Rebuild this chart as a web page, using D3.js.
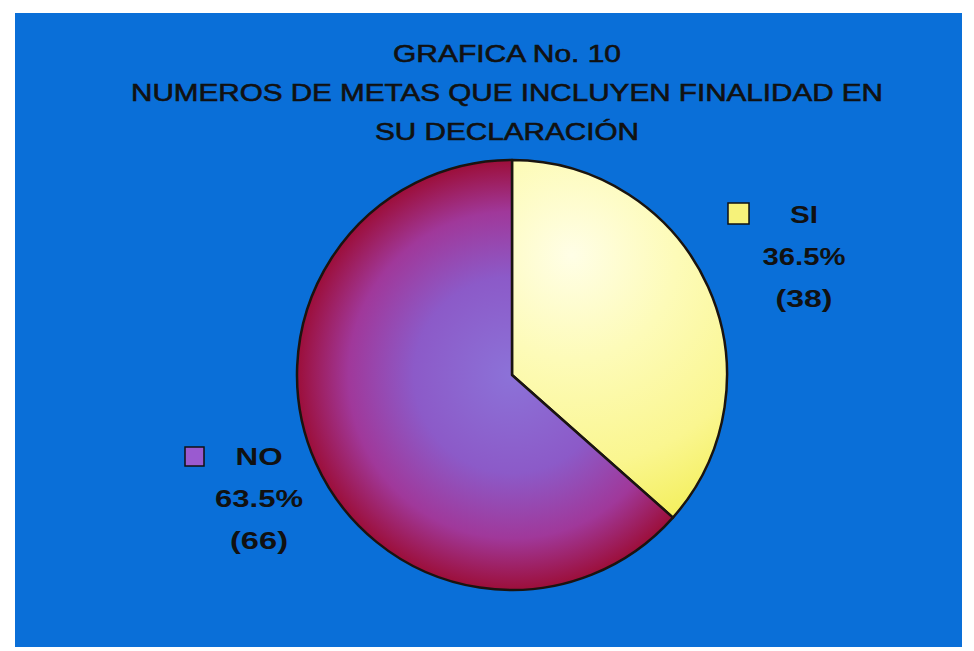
<!DOCTYPE html>
<html>
<head>
<meta charset="utf-8">
<script src="https://cdn.jsdelivr.net/npm/d3@7"></script>
<style>
  body { margin: 0; background: #fff; }
  svg { display: block; }
  text { font-family: "Liberation Sans", Arial, sans-serif; fill: #111; }
</style>
</head>
<body>
<svg id="chart"></svg>
<script>
const width = 974;
const height = 651;

const titleLines = ["GRAFICA No. 10", "NUMEROS DE METAS QUE INCLUYEN FINALIDAD EN", "SU DECLARACIÓN"];
const categories = ["SI", "NO"];
const counts = [38, 66];
const percents = ["36.5%", "63.5%"];

const svg = d3.select("#chart").attr("width", width).attr("height", height);
const defs = svg.append("defs");

// slice gradients
const grads = {
  SI: { cx: 60, cy: -120, r: 300, stops: [["0%", "#fffee6"], ["35%", "#fdfbb8"], ["70%", "#faf690"], ["100%", "#f2ed50"]] },
  NO: { cx: 0, cy: 0, r: 218, stops: [["0%", "#8c72d8"], ["45%", "#8c5ac8"], ["75%", "#a0389a"], ["100%", "#9c0c34"]] },
};
Object.keys(grads).forEach((k) => {
  const gd = grads[k];
  const g = defs.append("radialGradient").attr("id", "grad_" + k)
    .attr("gradientUnits", "userSpaceOnUse")
    .attr("cx", gd.cx).attr("cy", gd.cy).attr("r", gd.r);
  gd.stops.forEach(([o, c]) => g.append("stop").attr("offset", o).attr("stop-color", c));
});

// blue panel
svg.append("rect")
  .attr("x", 15).attr("y", 13)
  .attr("width", 947).attr("height", 634)
  .attr("fill", "#0a6fd8");

// title
svg.append("g").selectAll("text")
  .data(titleLines)
  .join("text")
  .attr("x", 507)
  .attr("y", (d, i) => 62 + i * 39)
  .attr("text-anchor", "middle")
  .attr("font-size", 24)
  .attr("stroke", "#111")
  .attr("stroke-width", 0.6)
  .attr("textLength", (d, i) => [228, 752, 264][i])
  .attr("lengthAdjust", "spacingAndGlyphs")
  .text((d) => d);

// pie
const cx = 512, cy = 375, r = 215;
const data = categories.map((c, i) => ({ cat: c, value: counts[i], pct: percents[i] }));
const pie = d3.pie().sort(null).value((d) => d.value);
const arc = d3.arc().innerRadius(0).outerRadius(r);

const pg = svg.append("g").attr("transform", `translate(${cx},${cy})`);
pg.selectAll("path")
  .data(pie(data))
  .join("path")
  .attr("d", arc)
  .attr("fill", (d) => `url(#grad_${d.data.cat})`)
  .attr("stroke", "#1a1410")
  .attr("stroke-width", 2.5)
  .attr("stroke-linejoin", "round");

// labels with legend squares
const labelPos = {
  SI: { x: 804, y: 223, sx: 728, sy: 203, ss: 21, w: [28, 83, 57] },
  NO: { x: 259, y: 465, sx: 185, sy: 447, ss: 19, w: [47, 88, 58] },
};
const lg = svg.append("g");
data.forEach((d) => {
  const p = labelPos[d.cat];
  lg.append("rect")
    .attr("x", p.sx).attr("y", p.sy)
    .attr("width", p.ss).attr("height", p.ss)
    .attr("fill", d.cat === "SI" ? "#f6f27a" : "#9a5ad0")
    .attr("stroke", "#111").attr("stroke-width", 1.5);
  [d.cat, d.pct, `(${d.value})`].forEach((s, i) => {
    lg.append("text")
      .attr("x", p.x)
      .attr("y", p.y + i * 42)
      .attr("text-anchor", "middle")
      .attr("font-size", 23)
      .attr("font-weight", "bold")
      .attr("textLength", p.w[i])
      .attr("lengthAdjust", "spacingAndGlyphs")
      .text(s);
  });
});
</script>
</body>
</html>
